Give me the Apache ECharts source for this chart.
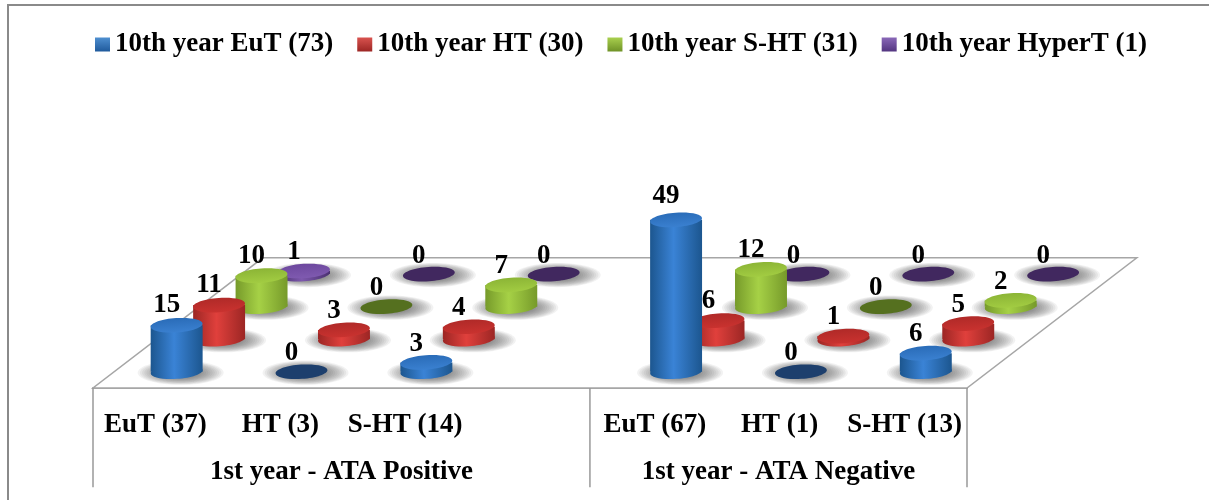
<!DOCTYPE html>
<html>
<head>
<meta charset="utf-8">
<style>
html, body { margin: 0; padding: 0; background: #fff; }
#main { width: 1209px; height: 500px; }
</style>
<script src="https://cdn.jsdelivr.net/npm/echarts@6/dist/echarts.min.js"></script>
</head>
<body>
<div id="main"></div>
<script>
var categories = ['EuT (37)', 'HT (3)', 'S-HT (14)', '', 'EuT (67)', 'HT (1)', 'S-HT (13)'];
var groupLabels = ['1st year - ATA Positive', '1st year - ATA Negative'];
var groupEdges = [0, 3.98, 7];
var seriesNames = ['10th year EuT (73)', '10th year HT (30)', '10th year S-HT (31)', '10th year HyperT (1)'];
var eutValues = [15, 0, 3, null, 49, 0, 6];
var htValues = [11, 3, 4, null, 6, 1, 5];
var shtValues = [10, 0, 7, null, 12, 0, 2];
var hyperValues = [1, 0, 0, null, 0, 0, 0];
var allValues = [eutValues, htValues, shtValues, hyperValues];

var palettes = [
  { edge: '#1c568f', mid: '#3a83d6', top: ['#3a80d0', '#2a6cb8'], flat: '#1d3f6d', icon: ['#4f8fd0', '#1f5a9c'] },
  { edge: '#9c2624', mid: '#e0403c', top: ['#c9322f', '#b02a28'], flat: '#c4312e', icon: ['#d9534f', '#9c2624'] },
  { edge: '#769a2a', mid: '#a6d146', top: ['#a2cc42', '#8cb536'], flat: '#55701f', icon: ['#a9d04e', '#6f9227'] },
  { edge: '#4a3070', mid: '#7d58ad', top: ['#7f5ab0', '#6d489e'], flat: '#41285f', icon: ['#8a68b8', '#533580'] }
];

var FONT = '"Liberation Serif", "Times New Roman", serif';
var FONT_SIZE = 27;
var LINE_COLOR = '#a6a6a6';
var FLOOR_DEPTH = 42;     // y units
var FLOOR_SKEW = 1.36;    // x units over the whole depth
var TABLE_BOTTOM = -32;   // y units below the floor
var GROUP_LABEL_Y = -27;
var RADIUS_X = 0.208;     // x units
var RADIUS_Y = 2.3;       // y units
var TILT = 0.07;

var chart = echarts.init(document.getElementById('main'));

function renderFloor(params, api) {
  var children = [];
  var corners = [[0, 0], [7, 0], [7 + FLOOR_SKEW, FLOOR_DEPTH], [FLOOR_SKEW, FLOOR_DEPTH]];
  children.push({
    type: 'polygon',
    shape: { points: corners.map(function (c) { return api.coord(c); }) },
    style: { fill: '#fff', stroke: LINE_COLOR, lineWidth: 1.5 }
  });
  groupEdges.forEach(function (x) {
    var a = api.coord([x, 0]);
    var b = api.coord([x, TABLE_BOTTOM]);
    children.push({
      type: 'line',
      shape: { x1: a[0], y1: a[1], x2: b[0], y2: b[1] },
      style: { stroke: '#999', lineWidth: 1.5 }
    });
  });
  groupLabels.forEach(function (label, i) {
    var p = api.coord([(groupEdges[i] + groupEdges[i + 1]) / 2, GROUP_LABEL_Y]);
    children.push({
      type: 'text',
      x: p[0],
      y: p[1],
      style: {
        text: label, fill: '#000', font: 'bold ' + FONT_SIZE + 'px ' + FONT,
        align: 'center', verticalAlign: 'middle'
      }
    });
  });
  return { type: 'group', children: children };
}

function makeRenderer(row) {
  var pal = palettes[row];
  return function (params, api) {
    var col = api.value(0);
    var val = api.value(1);
    var depthPos = (row + 0.5) / allValues.length;
    var x = col + 0.5 + FLOOR_SKEW * depthPos;
    var y = FLOOR_DEPTH * depthPos;
    var base = api.coord([x, y]);
    var top = api.coord([x, y + val]);
    var size = api.size([RADIUS_X, RADIUS_Y]);
    var rx = size[0];
    var ry = size[1];
    var children = [];
    // soft shadow on the floor
    for (var i = 0; i < 12; i++) {
      children.push({
        type: 'ellipse',
        shape: { cx: base[0] + 4, cy: base[1] + 1, rx: rx + 17 - i * 2.2, ry: ry + 5 - i * 0.6 },
        style: { fill: 'rgba(70,70,70,0.07)' }
      });
    }
    var sideFill = new echarts.graphic.LinearGradient(0, 0, 1, 0, [
      { offset: 0, color: pal.edge },
      { offset: 0.45, color: pal.mid },
      { offset: 1, color: pal.edge }
    ]);
    var topFill = new echarts.graphic.LinearGradient(0, 0, 0, 1, [
      { offset: 0, color: pal.top[1] },
      { offset: 1, color: pal.top[0] }
    ]);
    if (val > 0) {
      children.push({
        type: 'ellipse',
        shape: { cx: base[0], cy: base[1], rx: rx, ry: ry },
        rotation: TILT, originX: base[0], originY: base[1],
        style: { fill: sideFill }
      });
      children.push({
        type: 'rect',
        shape: { x: base[0] - rx, y: top[1], width: rx * 2, height: base[1] - top[1] },
        style: { fill: sideFill }
      });
    }
    children.push({
      type: 'ellipse',
      shape: { cx: top[0], cy: top[1], rx: rx, ry: ry },
      rotation: TILT, originX: top[0], originY: top[1],
      style: { fill: val > 0 ? topFill : pal.flat }
    });
    children.push({
      type: 'text',
      x: top[0] - 10,
      y: top[1] - 18.5 - val * 0.1,
      style: {
        text: String(val), fill: '#000', font: 'bold ' + FONT_SIZE + 'px ' + FONT,
        align: 'center', verticalAlign: 'middle'
      }
    });
    return { type: 'group', children: children };
  };
}

var series = [{
  name: 'floor',
  type: 'custom',
  xAxisIndex: 1,
  silent: true,
  z: 1,
  data: [[0, 0]],
  renderItem: renderFloor
}];
allValues.forEach(function (values, row) {
  var points = [];
  values.forEach(function (v, i) {
    if (v !== null) {
      points.push([i, v]);
    }
  });
  series.push({
    name: seriesNames[row],
    type: 'custom',
    xAxisIndex: 1,
    z: 6 - row,
    itemStyle: { color: palettes[row].mid },
    data: points,
    renderItem: makeRenderer(row)
  });
});

var option = {
  backgroundColor: '#fff',
  animation: false,
  legend: {
    left: 90,
    top: 26,
    itemWidth: 15,
    itemHeight: 14,
    itemGap: 24,
    icon: 'rect',
    selectedMode: false,
    textStyle: { fontFamily: FONT, fontWeight: 'bold', fontSize: FONT_SIZE, color: '#000' },
    data: seriesNames.map(function (name, i) {
      return {
        name: name,
        itemStyle: {
          color: new echarts.graphic.LinearGradient(0, 0, 0, 1, [
            { offset: 0, color: palettes[i].icon[0] },
            { offset: 1, color: palettes[i].icon[1] }
          ])
        }
      };
    })
  },
  grid: { left: 93, width: 874, top: 0.5, height: 499.1, outerBoundsMode: 'none' },
  xAxis: [
    {
      type: 'category',
      data: categories,
      offset: -111.6,
      axisLine: { show: true, onZero: false, lineStyle: { color: LINE_COLOR, width: 2 } },
      axisTick: { show: false },
      splitLine: { show: false },
      axisLabel: {
        interval: 0, margin: 24, color: '#000',
        fontFamily: FONT, fontWeight: 'bold', fontSize: FONT_SIZE
      }
    },
    { type: 'value', min: 0, max: 7, show: false }
  ],
  yAxis: { type: 'value', min: -36, max: 125, show: false },
  graphic: [{
    type: 'polyline',
    silent: true,
    shape: { points: [[8, 500], [8, 5], [1209, 5]] },
    style: { fill: null, stroke: '#8a8a8a', lineWidth: 2 }
  }],
  series: series
};

chart.setOption(option);
</script>
</body>
</html>
